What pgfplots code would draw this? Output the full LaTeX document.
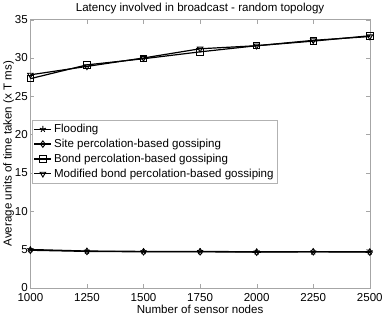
\documentclass[border=0pt]{standalone}
\usepackage{pgfplots}
\pgfplotsset{compat=1.18}
\usepackage{fontspec}
\setmainfont{Liberation Sans}
\begin{document}
\begin{tikzpicture}
\begin{axis}[
  scale only axis, width=338pt, height=267pt,
  xmin=1000, xmax=2500, ymin=0, ymax=35,
  xtick={1000,1250,...,2500}, ytick={0,5,...,35},
  tick align=inside, major tick length=4pt,
  axis line style={gray!70}, tick style={gray!70},
  every tick label/.append style={font=\fontsize{11.5}{13}\selectfont},
  xticklabel style={yshift=-2pt},
  yticklabel style={xshift=1pt},
  /pgf/number format/assume math mode=true,
  /pgf/number format/1000 sep={},
  title={Latency involved in broadcast - random topology},
  title style={font=\fontsize{11.5}{13}\selectfont, yshift=-4pt},
  xlabel={Number of sensor nodes},
  ylabel={Average units of time taken (x T ms)},
  label style={font=\fontsize{11.5}{13}\selectfont},
  xlabel style={yshift=3pt},
  ylabel style={yshift=-6pt},
  legend style={at={(axis cs:1005,21.9)}, anchor=north west, font=\fontsize{11.5}{13}\selectfont, draw=gray!60, row sep=1pt, inner sep=2pt},
  legend cell align=left,
  legend image post style={line width=1.2pt},
  cycle list={
    {black, line width=1.2pt, mark=star, mark options={solid, line width=0.9pt}},
    {black, line width=1.2pt, mark=diamond, mark options={solid, line width=0.9pt, fill=white}},
    {black, line width=1.2pt, mark=square, mark options={solid, line width=0.9pt, fill=white}},
    {black, line width=1.2pt, mark=triangle, mark options={solid, line width=0.9pt, fill=white, rotate=180}}
  },
  mark size=3.2pt,
]
\addplot coordinates {(1000,5.0) (1250,4.8) (1500,4.75) (1750,4.75) (2000,4.7) (2250,4.7) (2500,4.7)};
\addlegendentry{Flooding}
\addplot coordinates {(1000,4.9) (1250,4.75) (1500,4.7) (1750,4.7) (2000,4.65) (2250,4.7) (2500,4.65)};
\addlegendentry{Site percolation-based gossiping}
\addplot coordinates {(1000,27.3) (1250,29.1) (1500,29.9) (1750,30.8) (2000,31.6) (2250,32.2) (2500,32.9)};
\addlegendentry{Bond percolation-based gossiping}
\addplot coordinates {(1000,27.8) (1250,28.9) (1500,30.0) (1750,31.2) (2000,31.6) (2250,32.3) (2500,32.8)};
\addlegendentry{Modified bond percolation-based gossiping}
\end{axis}
\end{tikzpicture}
\end{document}
